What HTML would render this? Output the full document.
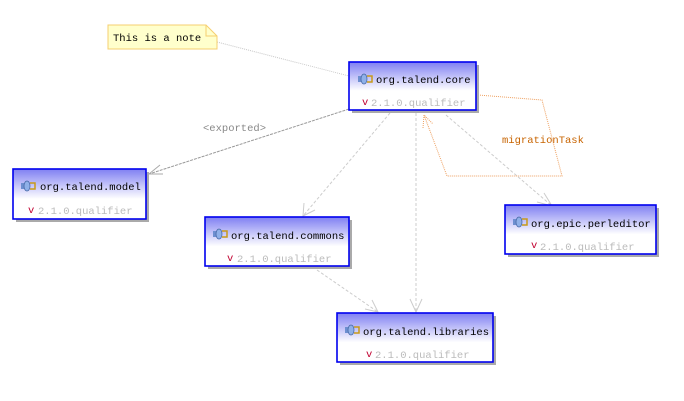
<!DOCTYPE html>
<html><head><meta charset="utf-8"><style>
html,body{margin:0;padding:0;background:#fff;}
svg{display:block;}
text{font-family:"Liberation Mono","Noto Sans CJK SC",monospace;font-size:10.5px;}
</style></head><body>
<svg width="684" height="401" viewBox="0 0 684 401" xmlns="http://www.w3.org/2000/svg">
<defs>
<linearGradient id="g" x1="0" y1="0" x2="0" y2="1">
<stop offset="0" stop-color="#7f7ff2"/><stop offset="0.6" stop-color="#ffffff"/><stop offset="1" stop-color="#ffffff"/>
</linearGradient>
<g id="icon">
<rect x="0" y="-3" width="4" height="6" fill="#6d8fd0"/>
<ellipse cx="6" cy="0" rx="3" ry="5" fill="#8fb0e8" stroke="#4a6aa8" stroke-width="0.8"/>
<path d="M9,-3 L14,-3 L14,3 L9,3" fill="none" stroke="#c89a1a" stroke-width="1.5"/>
</g>
</defs>

<!-- connectors -->
<line x1="217" y1="42" x2="349" y2="76" stroke="#c8c8c8" stroke-dasharray="1,1"/>
<line x1="349" y1="109" x2="149" y2="174" stroke="#999" stroke-dasharray="3,1"/>
<path d="M160,165 L149,174 L163,174" fill="none" stroke="#aaa"/>
<text x="203" y="131" fill="#888">&lt;exported&gt;</text>
<line x1="390" y1="113" x2="303" y2="216" stroke="#ccc" stroke-dasharray="3,2"/>
<path d="M304,203 L303,216 L315,210" fill="none" stroke="#ccc"/>
<line x1="416" y1="113" x2="416" y2="312" stroke="#ccc" stroke-dasharray="3,2"/>
<path d="M410,299 L416,312 L422,299" fill="none" stroke="#ccc"/>
<line x1="446" y1="115" x2="552" y2="206" stroke="#ccc" stroke-dasharray="3,2"/>
<path d="M544,193 L552,206 L537,202" fill="none" stroke="#ccc"/>
<line x1="317" y1="270" x2="378" y2="312" stroke="#ccc" stroke-dasharray="3,2"/>
<path d="M365,309 L378,312 L372,300" fill="none" stroke="#ccc"/>
<path d="M478,95 L542,100 L562,176 L447,176 L424,115" fill="none" stroke="#eea060" stroke-dasharray="1,1"/>
<path d="M423,128 L424,115 L433,124" fill="none" stroke="#eea060" stroke-dasharray="1,1"/>
<text x="502" y="143" fill="#c86400">migrationTask</text>

<!-- note -->
<path d="M108,25 L206,25 L217,36 L217,49 L108,49 Z" fill="#ffffcc" stroke="#f5cf70"/>
<path d="M206,25 L206,36 L217,36" fill="none" stroke="#f5cf70"/>
<text x="113" y="41" fill="#000">This is a note</text>

<!-- boxes -->
<g>
<rect x="352" y="65" width="127" height="48" fill="#aaa"/>
<rect x="349" y="62" width="127" height="48" fill="url(#g)" stroke="#0000ee" stroke-width="1.6"/>
<use href="#icon" x="358" y="79"/>
<text x="376" y="83" fill="#000">org.talend.core</text>
<text x="362" y="105" fill="#c00030">v</text><text x="371" y="106" fill="#bbb">2.1.0.qualifier</text>
</g>
<g>
<rect x="16" y="172" width="133" height="50" fill="#aaa"/>
<rect x="13" y="169" width="133" height="50" fill="url(#g)" stroke="#0000ee" stroke-width="1.6"/>
<use href="#icon" x="21" y="186"/>
<text x="40" y="190" fill="#000">org.talend.model</text>
<text x="28" y="213" fill="#c00030">v</text><text x="38" y="214" fill="#bbb">2.1.0.qualifier</text>
</g>
<g>
<rect x="208" y="220" width="144" height="49" fill="#aaa"/>
<rect x="205" y="217" width="144" height="49" fill="url(#g)" stroke="#0000ee" stroke-width="1.6"/>
<use href="#icon" x="213" y="234"/>
<text x="231" y="239" fill="#000">org.talend.commons</text>
<text x="227" y="261" fill="#c00030">v</text><text x="237" y="262" fill="#bbb">2.1.0.qualifier</text>
</g>
<g>
<rect x="508" y="208" width="151" height="49" fill="#aaa"/>
<rect x="505" y="205" width="151" height="49" fill="url(#g)" stroke="#0000ee" stroke-width="1.6"/>
<use href="#icon" x="513" y="222"/>
<text x="531" y="227" fill="#000">org.epic.perleditor</text>
<text x="531" y="248" fill="#c00030">v</text><text x="540" y="250" fill="#bbb">2.1.0.qualifier</text>
</g>
<g>
<rect x="340" y="316" width="156" height="49" fill="#aaa"/>
<rect x="337" y="313" width="156" height="49" fill="url(#g)" stroke="#0000ee" stroke-width="1.6"/>
<use href="#icon" x="345" y="330"/>
<text x="363" y="335" fill="#000">org.talend.libraries</text>
<text x="366" y="357" fill="#c00030">v</text><text x="375" y="358" fill="#bbb">2.1.0.qualifier</text>
</g>
</svg>
</body></html>
